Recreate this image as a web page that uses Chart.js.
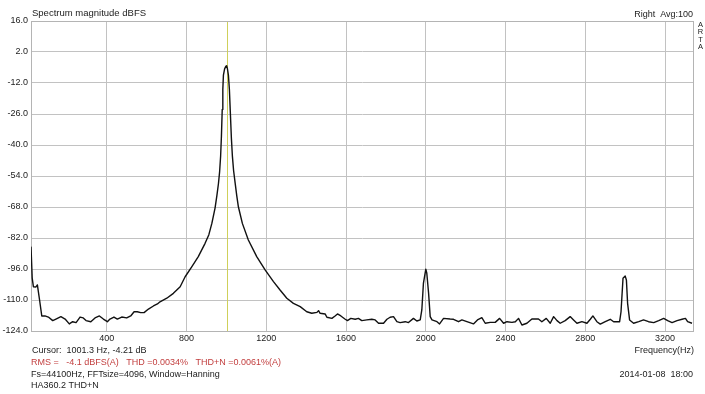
<!DOCTYPE html>
<html>
<head>
<meta charset="utf-8">
<script src="https://cdn.jsdelivr.net/npm/chart.js@4.4.1/dist/chart.umd.min.js"></script>
<style>
    html, body { margin: 0; padding: 0; background: #fff; }
    #wrap { width: 705px; height: 394px; }
</style>
</head>
<body>
<div id="wrap"><canvas id="chart-spectrum" width="705" height="394"></canvas></div>
<script>
// Spectrum (Hz / dBFS)
const freqHz = [
    20, 26, 32, 45, 52, 63, 74, 90, 107, 129,
    145, 170, 191, 212, 229, 246, 266, 282, 296, 320,
    341, 363, 383, 403, 416, 436, 453, 475, 500, 520,
    537, 553, 570, 587, 609, 634, 654, 667, 701, 734,
    768, 793, 826, 859, 893, 912, 927, 943, 952, 960,
    966, 971, 975, 979, 982, 985, 991, 997, 1001, 1005,
    1010, 1015, 1020, 1025, 1030, 1036, 1044, 1052, 1060, 1080,
    1110, 1152, 1194, 1236, 1269,
    1303, 1336, 1370, 1403, 1428, 1454, 1462, 1470, 1495, 1504,
    1529, 1545, 1557, 1574, 1596, 1607, 1624, 1646, 1662, 1679,
    1704, 1729, 1746, 1763, 1788, 1805, 1821, 1838, 1855, 1871,
    1897, 1913, 1938, 1955, 1972, 1980, 1988, 2000, 2005, 2014,
    2022, 2031, 2056, 2069, 2089, 2122, 2139, 2164, 2181, 2206,
    2239, 2259, 2281, 2298, 2323, 2348, 2370, 2390, 2407, 2432,
    2449, 2465, 2482, 2507, 2532, 2565, 2582, 2604, 2624, 2641,
    2658, 2674, 2699, 2724, 2741, 2758, 2783, 2808, 2825, 2838,
    2858, 2875, 2900, 2925, 2942, 2972, 2979, 2989, 3000, 3006,
    3012, 3022, 3042, 3068, 3092, 3117, 3143, 3168, 3193, 3213,
    3235, 3260, 3285, 3302, 3313, 3335
];

const levelDb = [
    -85.9, -100.1, -104.0, -104.1, -103.2, -110.0, -117.2, -117.2, -117.7, -119.3,
    -118.6, -117.5, -118.6, -120.8, -119.8, -120.2, -117.7, -118.1, -119.3, -119.8,
    -118.1, -117.2, -118.6, -119.8, -118.6, -117.7, -118.6, -117.7, -118.1, -117.2,
    -115.3, -115.3, -115.7, -115.7, -114.1, -112.7, -111.8, -110.8, -109.2, -107.0,
    -104.0, -99.5, -95.0, -90.4, -84.4, -80.5, -75.4, -68.5, -63.0, -57.5,
    -52.0, -45.0, -36.0, -24.0, -15.0, -8.4, -5.6, -4.5, -4.2, -5.5,
    -8.4, -15.0, -26.0, -37.0, -45.0, -51.5, -57.3, -63.0, -67.9, -75.4,
    -82.9, -90.4, -96.4, -101.7, -105.5,
    -109.2, -111.5, -113.0, -115.3, -116.0, -115.6, -114.8, -116.0, -116.3, -117.8,
    -118.3, -117.2, -116.3, -117.2, -118.7, -119.3, -118.3, -118.7, -118.3, -119.3,
    -119.0, -118.7, -119.0, -120.5, -120.5, -118.7, -117.8, -117.5, -119.8, -120.2,
    -119.8, -120.2, -118.3, -119.5, -119.0, -114.5, -102.5, -96.1, -97.9, -107.0,
    -117.5, -119.0, -119.8, -120.8, -118.3, -118.6, -118.7, -119.8, -119.0, -119.8,
    -120.8, -119.0, -118.0, -120.5, -120.1, -120.1, -118.3, -120.5, -119.8, -120.1,
    -119.8, -118.3, -121.3, -120.5, -118.6, -118.6, -119.8, -118.3, -120.5, -117.5,
    -119.3, -120.5, -119.3, -117.5, -119.0, -120.5, -119.8, -120.5, -118.7, -117.2,
    -119.8, -120.9, -119.8, -118.7, -119.8, -119.8, -115.3, -100.2, -99.2, -101.0,
    -111.5, -119.0, -120.5, -119.8, -119.0, -119.8, -120.2, -119.3, -118.3, -119.3,
    -120.2, -119.3, -118.7, -118.3, -119.8, -120.5
];

const xTickValues = [400, 800, 1200, 1600, 2000, 2400, 2800, 3200];
const yTickValues = [16, 2, -12, -26, -40, -54, -68, -82, -96, -110, -124];
const xRange = [20, 3345];
const cursorHz = 1001.3;

const titleText = "Spectrum magnitude dBFS";
const channelText = "Right  Avg:100";
const brandLetters = ["A", "R", "T", "A"];
const axisTitle = "Frequency(Hz)";
const cursorText = "Cursor:  1001.3 Hz, -4.21 dB";
const resultText = "RMS =   -4.1 dBFS(A)   THD =0.0034%   THD+N =0.0061%(A)";
const setupLines = ["Fs=44100Hz, FFTsize=4096, Window=Hanning", "HA360.2 THD+N"];
const dateText = "2014-01-08  18:00";

const FAMILY = '"Liberation Sans", Arial, sans-serif';
const FONT = "9px " + FAMILY;
const TEXT = "#222";
const GRID = "#c2c2c2";

const framePlugin = {
    id: "frame",
    beforeDatasetsDraw(chart) {
        const { ctx, chartArea: a, scales } = chart;
        ctx.save();
        // cursor marker
        const cx = Math.round(scales.x.getPixelForValue(cursorHz)) + 0.5;
        ctx.strokeStyle = "#cfd05a";
        ctx.lineWidth = 1;
        ctx.beginPath();
        ctx.moveTo(cx, a.top);
        ctx.lineTo(cx, a.bottom);
        ctx.stroke();
        // plot border
        ctx.strokeStyle = "#b4b4b4";
        ctx.strokeRect(a.left + 0.5, a.top + 0.5, a.right - a.left - 1, a.bottom - a.top);
        ctx.restore();
    }
};

const labelsPlugin = {
    id: "labels",
    afterDraw(chart) {
        const ctx = chart.ctx;
        ctx.save();
        ctx.fillStyle = TEXT;
        ctx.textBaseline = "middle";

        ctx.textAlign = "left";
        ctx.font = "9.5px " + FAMILY;
        ctx.fillText(titleText, 32, 13);
        ctx.font = FONT;
        ctx.fillText(cursorText, 32, 351);
        setupLines.forEach((line, i) => ctx.fillText(line, 31, 375 + i * 11));
        ctx.fillStyle = "#c23e3e";
        ctx.fillText(resultText, 31, 363);

        ctx.fillStyle = TEXT;
        ctx.textAlign = "right";
        ctx.fillText(channelText, 693, 14.5);
        ctx.fillText(axisTitle, 694, 351);
        ctx.fillText(dateText, 693, 375);

        ctx.textAlign = "center";
        ctx.font = "7.5px " + FAMILY;
        brandLetters.forEach((ch, i) => ctx.fillText(ch, 700.5, 25 + i * 7.3));
        ctx.restore();
    }
};

function renderSpectrum() {
    const ctx = document.getElementById("chart-spectrum").getContext("2d");
    const points = freqHz.map((f, i) => ({ x: f, y: levelDb[i] }));

    return new Chart(ctx, {
        type: "line",
        data: {
            datasets: [{
                data: points,
                borderColor: "#111",
                borderWidth: 1.4,
                borderJoinStyle: "round",
                pointRadius: 0,
                tension: 0,
                fill: false
            }]
        },
        options: {
            responsive: false,
            animation: false,
            events: [],
            layout: { padding: { top: 21, right: 11, bottom: 0, left: 0 } },
            plugins: {
                legend: { display: false },
                tooltip: { enabled: false }
            },
            scales: {
                x: {
                    type: "linear",
                    min: xRange[0],
                    max: xRange[1],
                    afterBuildTicks: s => { s.ticks = xTickValues.map(v => ({ value: v })); },
                    afterFit: s => { s.height = 63; },
                    grid: { color: GRID, drawTicks: false },
                    border: { display: false },
                    ticks: {
                        padding: 2,
                        color: TEXT,
                        font: { family: FAMILY, size: 9 },
                        maxRotation: 0,
                        autoSkip: false,
                        callback: v => String(v)
                    }
                },
                y: {
                    min: yTickValues[yTickValues.length - 1],
                    max: yTickValues[0],
                    afterBuildTicks: s => { s.ticks = yTickValues.map(v => ({ value: v })); },
                    afterFit: s => { s.width = 31; },
                    grid: { color: GRID, drawTicks: false },
                    border: { display: false },
                    ticks: {
                        padding: 3,
                        color: TEXT,
                        font: { family: FAMILY, size: 9 },
                        autoSkip: false,
                        callback: v => Number(v).toFixed(1)
                    }
                }
            }
        },
        plugins: [framePlugin, labelsPlugin]
    });
}

renderSpectrum();
</script>
</body>
</html>
